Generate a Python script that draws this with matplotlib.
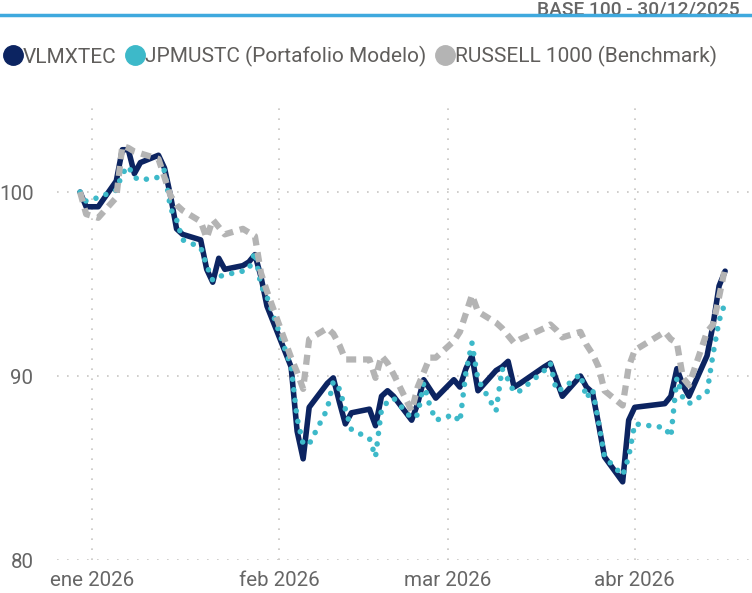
import matplotlib
matplotlib.use("Agg")
import matplotlib.pyplot as plt
from matplotlib.lines import Line2D
import pandas as pd

plt.rcParams['font.family'] = ['Roboto', 'DejaVu Sans']

# fechas (dias habiles BMV), base 100 = 30/12/2025
dates = ['2025-12-30', '2025-12-31', '2026-01-02', '2026-01-05', '2026-01-06',
         '2026-01-07', '2026-01-08', '2026-01-09', '2026-01-12', '2026-01-13',
         '2026-01-14', '2026-01-15', '2026-01-16', '2026-01-19', '2026-01-20',
         '2026-01-21', '2026-01-22', '2026-01-23', '2026-01-26', '2026-01-27',
         '2026-01-28', '2026-01-29', '2026-01-30', '2026-02-03', '2026-02-04',
         '2026-02-05', '2026-02-06', '2026-02-09', '2026-02-10', '2026-02-11',
         '2026-02-12', '2026-02-13', '2026-02-16', '2026-02-17', '2026-02-18',
         '2026-02-19', '2026-02-20', '2026-02-23', '2026-02-24', '2026-02-25',
         '2026-02-26', '2026-02-27', '2026-03-02', '2026-03-03', '2026-03-04',
         '2026-03-05', '2026-03-06', '2026-03-09', '2026-03-10', '2026-03-11',
         '2026-03-12', '2026-03-13', '2026-03-17', '2026-03-18', '2026-03-19',
         '2026-03-20', '2026-03-23', '2026-03-24', '2026-03-25', '2026-03-26',
         '2026-03-27', '2026-03-30', '2026-03-31', '2026-04-01', '2026-04-06',
         '2026-04-07', '2026-04-08', '2026-04-09', '2026-04-10', '2026-04-13',
         '2026-04-14', '2026-04-15', '2026-04-16']

vlmxtec = [100.0, 99.2, 99.2, 100.6, 102.3, 102.3, 101.0, 101.6, 102.0, 101.3,
           99.8, 98.0, 97.7, 97.4, 95.8, 95.1, 96.4, 95.8, 96.0, 96.2,
           96.6, 95.4, 93.8, 90.5, 87.0, 85.5, 88.3, 89.6, 89.9, 88.6,
           87.4, 88.0, 88.2, 87.3, 88.9, 89.2, 88.9, 87.6, 88.5, 89.8,
           89.3, 88.8, 89.8, 89.4, 90.4, 91.1, 89.2, 90.3, 90.5, 90.8,
           89.4, 89.6, 90.5, 90.7, 89.8, 88.9, 90.0, 89.4, 89.1, 87.4,
           85.6, 84.25, 87.6, 88.3, 88.5, 88.9, 90.4, 89.5, 88.9, 91.1,
           92.8, 94.9, 95.7]

jpmustc = [100.0, 99.5, 99.7, 100.1, 101.0, 101.4, 100.8, 100.65, 100.8, 101.2,
           99.1, 98.5, 97.4, 97.0, 96.0, 95.2, 95.4, 95.5, 95.7, 95.8,
           96.75, 94.9, 94.3, 90.5, 87.7, 86.3, 86.3, 88.2, 89.7, 89.3,
           88.2, 87.1, 86.6, 85.6, 88.2, 88.6, 88.8, 87.7, 87.9, 89.6,
           88.4, 87.6, 87.9, 87.5, 90.2, 91.8, 89.8, 88.1, 90.4, 89.8,
           89.1, 89.2, 90.3, 90.7, 89.2, 89.3, 90.1, 88.8, 89.3, 87.5,
           85.6, 84.6, 85.6, 87.4, 87.2, 86.7, 89.9, 88.8, 88.5, 89.1,
           91.2, 93.0, 94.0]

russell = [100.0, 98.8, 98.6, 99.7, 102.5, 102.4, 102.2, 102.1, 101.8, 100.8,
           99.8, 99.3, 99.0, 98.4, 97.5, 98.5, 98.1, 97.7, 98.0, 97.8,
           97.6, 95.6, 94.6, 91.0, 90.2, 89.3, 92.0, 92.6, 92.3, 91.7,
           90.9, 90.9, 90.9, 89.9, 91.1, 90.7, 90.1, 88.1, 89.4, 90.2,
           91.0, 91.0, 91.9, 92.4, 93.4, 94.4, 93.5, 92.9, 92.6, 92.2,
           91.8, 92.0, 92.6, 92.8, 92.5, 92.1, 92.4, 91.7, 91.2, 90.5,
           89.2, 88.4, 90.5, 91.4, 92.4, 92.0, 91.8, 89.9, 89.5, 92.4,
           92.8, 94.3, 95.9]

labels = ['VLMXTEC', 'JPMUSTC (Portafolio Modelo)', 'RUSSELL 1000 (Benchmark)']
month_ticks = ['2026-01-01', '2026-02-01', '2026-03-01', '2026-04-01']
month_labels = ['ene 2026', 'feb 2026', 'mar 2026', 'abr 2026']

navy = '#0C2461'
cyan = '#3DB9C9'
grey = '#B4B4B4'
txt = '#605E5C'

x = pd.to_datetime(dates)

fig = plt.figure(figsize=(7.52, 5.93), dpi=100)
ax = fig.add_axes([0.0758, 0.0556, 0.9242, 0.7757])

ax.plot(x, vlmxtec, color=navy, lw=4.0, solid_capstyle='round',
        solid_joinstyle='round', zorder=3)
ax.plot(x, jpmustc, color=cyan, lw=4.0, dashes=(0.01, 1.9),
        dash_capstyle='round', zorder=4)
ax.plot(x, russell, color=grey, lw=4.5, dashes=(1.6, 1.1),
        dash_capstyle='butt', zorder=5)

ax.set_ylim(80, 105)
ax.set_yticks([80, 90, 100])
ax.set_xlim(pd.Timestamp('2025-12-26 04:00'), pd.Timestamp('2026-04-20 11:00'))
ax.set_xticks(pd.to_datetime(month_ticks))
ax.set_xticklabels(month_labels)

for yv in [80, 90, 100]:
    ax.axhline(yv, color='#C8C6C4', lw=1.2, ls=(0, (1, 5)), zorder=1)
for m in pd.to_datetime(month_ticks):
    ax.axvline(m, color='#C8C6C4', lw=1.2, ls=(0, (1, 5)), zorder=1)

for s in ax.spines.values():
    s.set_visible(False)
ax.tick_params(length=0, labelsize=14.8, labelcolor='#666666')
ax.tick_params(axis='y', pad=17)
ax.tick_params(axis='x', pad=8)

# leyenda
handles = [Line2D([], [], ls='none', marker='o', ms=14, color=c)
           for c in (navy, cyan, grey)]
fig.legend(handles, labels, loc='upper left', bbox_to_anchor=(0.008, 0.922),
           ncol=3, frameon=False, fontsize=15, labelcolor=txt,
           handlelength=0.7, handletextpad=0.12, columnspacing=0.55,
           borderpad=0, borderaxespad=0)

# cabecera
fig.text(0.983, 1 - 14.5 / 593, 'BASE 100 - 30/12/2025', ha='right',
         va='baseline', fontsize=13.8, color='#666666', fontweight='medium', zorder=5)
fig.add_artist(Line2D([0, 1], [1 - 15.0 / 593, 1 - 15.0 / 593], color='#3FA9DE',
                      lw=2.5, transform=fig.transFigure, zorder=10))

fig.savefig('out.png', dpi=100)
